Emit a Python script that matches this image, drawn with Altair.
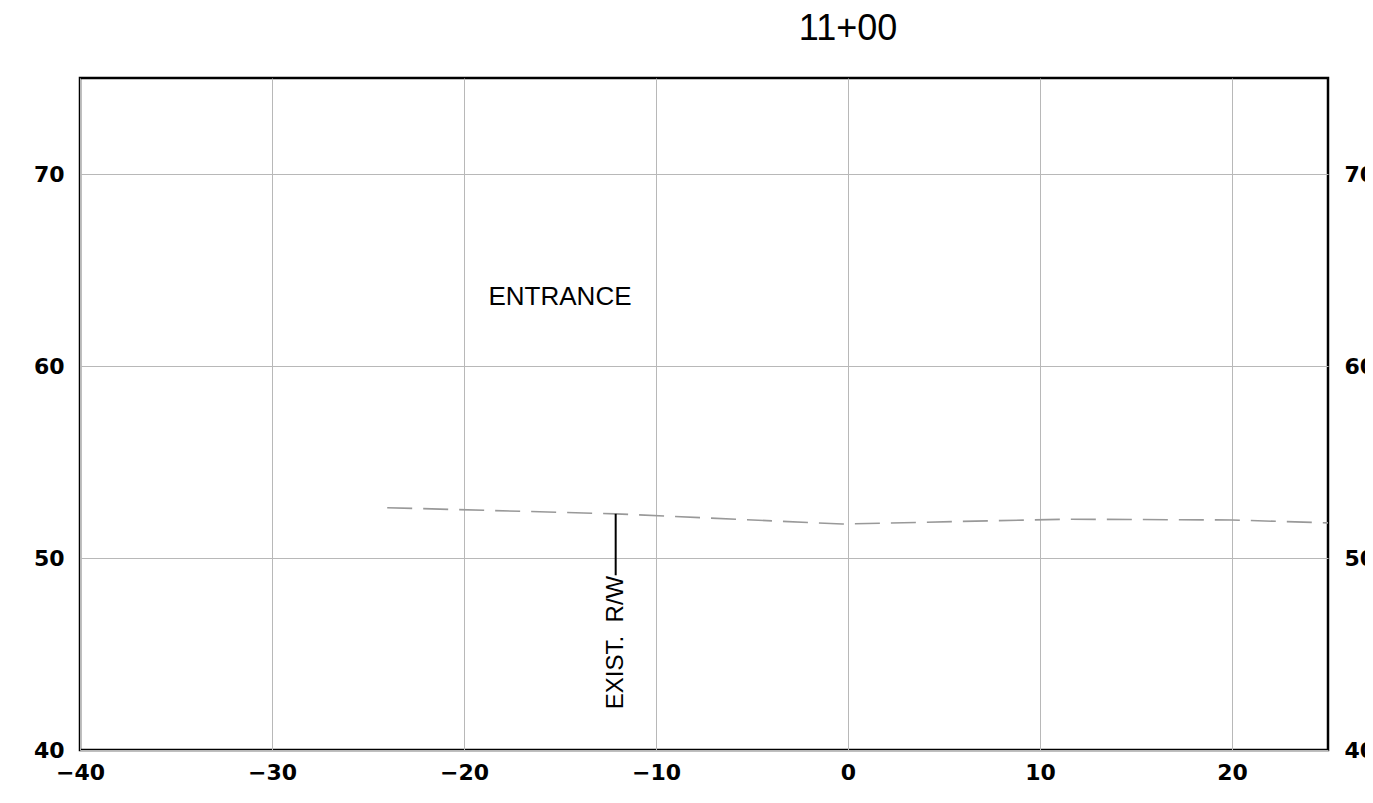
import altair as alt
import pandas as pd

# Existing ground profile (dashed)
ground_x = [-24.0, -12.1, -0.3, 11.3, 20.0, 25.0]
ground_y = [52.62, 52.30, 51.77, 52.02, 51.98, 51.83]

# R/W marker
rw_x = [-12.1]
rw_top = [52.30]
rw_bottom = [49.1]

# labels
label_text = ["ENTRANCE"]
label_x = [-15.0]
label_y = [63.6]
rw_text = ["EXIST.\u00a0\u00a0R/W"]
rw_text_x = [-12.1]
rw_text_y = [45.6]
title_text = ["11+00"]
title_x = [0]

x_ticks = [-40, -30, -20, -10, 0, 10, 20]
y_ticks = [40, 50, 60, 70]

xs = alt.Scale(domain=[-40, 25], nice=False, zero=False)
ys = alt.Scale(domain=[40, 75], nice=False, zero=False)

x_axis = alt.Axis(values=x_ticks, title=None, grid=True, labelPadding=12, labelFlush=False,
                  labelExpr="replace(datum.label, '-', '\u2212')")
y_left = alt.Axis(values=y_ticks, title=None, grid=True, labelPadding=16, labelFlush=False, orient="left")
y_right = alt.Axis(values=y_ticks, title=None, grid=False, labelPadding=16, labelFlush=False, orient="right")

gdf = pd.DataFrame({"x": ground_x, "y": ground_y})
ground = alt.Chart(gdf).mark_line(color="#999999", strokeWidth=1.6, strokeDash=[25, 11]).encode(
    x=alt.X("x:Q", scale=xs, axis=x_axis),
    y=alt.Y("y:Q", scale=ys, axis=y_left),
)

rdf = pd.DataFrame({"x": rw_x, "y": rw_top, "y2": rw_bottom})
rw = alt.Chart(rdf).mark_rule(color="black", strokeWidth=2).encode(
    x=alt.X("x:Q", scale=xs),
    y=alt.Y("y:Q", scale=ys, axis=y_right),
    y2="y2:Q",
)

ldf = pd.DataFrame({"x": label_x, "y": label_y, "t": label_text})
ent = alt.Chart(ldf).mark_text(font="Liberation Sans", fontSize=26, color="black").encode(
    x=alt.X("x:Q", scale=xs), y=alt.Y("y:Q", scale=ys, axis=None), text="t:N")

rwt = pd.DataFrame({"x": rw_text_x, "y": rw_text_y, "t": rw_text})
rwlabel = alt.Chart(rwt).mark_text(font="Liberation Sans", fontSize=24, color="black", angle=270,
                                   align="center", baseline="middle").encode(
    x=alt.X("x:Q", scale=xs), y=alt.Y("y:Q", scale=ys, axis=None), text="t:N")

tdf = pd.DataFrame({"x": title_x, "t": title_text})
title = alt.Chart(tdf).mark_text(font="Liberation Sans", fontSize=36, color="black",
                                 baseline="middle").encode(
    x=alt.X("x:Q", scale=xs), y=alt.value(-49), text="t:N")

chart = alt.layer(ground, rw, ent, rwlabel, title).resolve_axis(y="independent").properties(
    width=1248, height=672,
    autosize=alt.AutoSizeParams(type="none"),
    padding={"left": 72, "top": 70, "right": 37, "bottom": 40},
    background="white",
).configure_view(stroke="black", strokeWidth=2.5).configure_axis(
    domain=False, ticks=False, gridColor="#b8b8b8", gridWidth=1,
    labelFont="DejaVu Sans", labelFontSize=22, labelFontWeight="bold", labelColor="black",
)

chart.save("out.html", embed_options={"renderer": "svg", "actions": False})
